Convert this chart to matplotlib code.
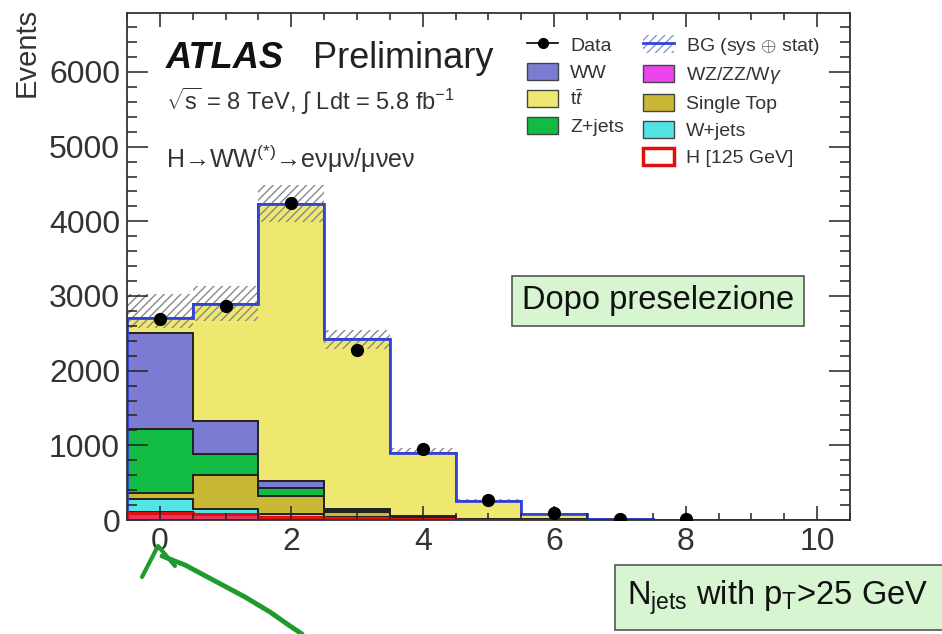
import numpy as np
import matplotlib
matplotlib.use("Agg")
from matplotlib import pyplot as plt
from matplotlib.patches import Patch, Rectangle
from matplotlib.lines import Line2D
from matplotlib.ticker import MultipleLocator

# jet multiplicity bins 0..10
njets = np.arange(0, 11)
edges = np.arange(-0.5, 11.0, 1.0)

# stacked expectations, bottom to top
h125 = [100, 78, 35, 30, 8, 2, 1, 0, 0, 0, 0]
wzzz = [10, 7, 5, 5, 2, 1, 0.5, 0, 0, 0, 0]
wjets = [168, 58, 36, 5, 3, 1, 0.5, 0, 0, 0, 0]
stop = [88, 461, 246, 67, 20, 6, 2, 0, 0, 0, 0]
zjets = [859, 286, 103, 20, 7, 2, 1, 0, 0, 0, 0]
ww = [1285, 430, 98, 25, 15, 5, 6, 1, 0, 0, 0]
ttbar = [200, 1570, 3714, 2273, 840, 238, 74, 14, 5, 1, 0.3]

# BG uncertainty band
band_lo = [2570, 2670, 3990, 2290, 880, 240, 70, 10, 3, 0.5, 0]
band_hi = [3030, 3140, 4480, 2550, 970, 275, 100, 20, 7, 1.5, 0.5]

# observed data
data_x = [0, 1, 2, 3, 4, 5, 6, 7, 8]
data_y = [2690, 2870, 4250, 2278, 949, 272, 100, 20, 8]

plt.rcParams["font.family"] = ["Liberation Sans", "DejaVu Sans"]
plt.rcParams["mathtext.fontset"] = "custom"
plt.rcParams["mathtext.rm"] = "Liberation Sans"
plt.rcParams["mathtext.it"] = "Liberation Sans:italic"
plt.rcParams["mathtext.bf"] = "Liberation Sans:bold"
plt.rcParams["hatch.linewidth"] = 1.0

fig = plt.figure(figsize=(9.42, 6.34), dpi=100)
ax = fig.add_axes([0.1348, 0.1798, 0.7675, 0.7997])

layers = [
    (h125, "#e8345e"),
    (wzzz, "#ee44ee"),
    (wjets, "#55e4e4"),
    (stop, "#c9b836"),
    (zjets, "#12bb44"),
    (ww, "#7b7bd2"),
    (ttbar, "#eee870"),
]

base = np.zeros(len(njets))
for vals, col in layers:
    top = base + np.array(vals, dtype=float)
    ax.stairs(top, edges, baseline=base, fill=True, facecolor=col,
              edgecolor="#222222", linewidth=1.4)
    base = top

# uncertainty hatch
lo = np.array(band_lo, dtype=float)
hi = np.array(band_hi, dtype=float)
ax.bar(njets, hi - lo, width=1.0, bottom=lo, fill=False, hatch="////",
       edgecolor="#888888", linewidth=0)

# total BG outline
ax.stairs(base, edges, color="#3344dd", linewidth=2.0)
# signal line along the bottom
ax.stairs(h125, edges, color="#e01010", linewidth=2.2)

ax.plot(data_x, data_y, "o", color="black", markersize=8.5, zorder=5)

ax.set_xlim(-0.5, 10.5)
ax.set_ylim(0, 6790)
ax.xaxis.set_major_locator(MultipleLocator(2))
ax.xaxis.set_minor_locator(MultipleLocator(0.5))
ax.yaxis.set_major_locator(MultipleLocator(1000))
ax.yaxis.set_minor_locator(MultipleLocator(200))
ax.tick_params(which="both", direction="in", top=True, right=True,
               colors="#222222", labelsize=23, width=1.1)
ax.tick_params(axis="x", which="major", length=10, pad=5)
ax.tick_params(axis="x", which="minor", length=5)
ax.tick_params(axis="y", which="major", length=15, pad=5)
ax.tick_params(axis="y", which="minor", length=7.5)
for tl in ax.get_xticklabels() + ax.get_yticklabels():
    tl.set_color("#333333")
for sp in ax.spines.values():
    sp.set_linewidth(1.3)
    sp.set_color("#333333")

fig.text(27 / 942, 1 - 8 / 634, "Events", rotation=90, ha="center",
         va="top", fontsize=21, color="#333333")

# labels inside the plot
ax.text(0.054, 0.891, "ATLAS", transform=ax.transAxes, fontsize=26,
        fontweight="bold", fontstyle="italic", color="#111111")
ax.text(0.257, 0.891, "Preliminary", transform=ax.transAxes, fontsize=26,
        color="#222222")
ax.text(0.054, 0.809, r"$\sqrt{\rm s}$ = 8 TeV, $\int$ Ldt = 5.8 fb$^{-1}$",
        transform=ax.transAxes, fontsize=17, color="#333333")
ax.text(0.054, 0.694, "H\u2192WW$^{(*)}$\u2192e\u03bd\u03bc\u03bd/\u03bc\u03bde\u03bd",
        transform=ax.transAxes, fontsize=18, color="#333333")

# legend, two columns
blank = Patch(facecolor="none", edgecolor="none")
h_data = Line2D([], [], color="black", marker="o", markersize=7, linewidth=1.2)
h_bg = (Patch(facecolor="white", edgecolor="#8899cc", hatch="////", linewidth=0),
        Line2D([], [], color="#3344dd", linewidth=2))
h_sig = Patch(facecolor="white", edgecolor="#e01010", linewidth=2.5)
handles = [h_data,
           Patch(facecolor="#7b7bd2", edgecolor="#444444"),
           Patch(facecolor="#eee870", edgecolor="#444444"),
           Patch(facecolor="#12bb44", edgecolor="#444444"),
           blank,
           h_bg,
           Patch(facecolor="#ee44ee", edgecolor="#444444"),
           Patch(facecolor="#c9b836", edgecolor="#444444"),
           Patch(facecolor="#55e4e4", edgecolor="#444444"),
           h_sig]
labels = ["Data", "WW", "t$\\bar{t}$", "Z+jets", "",
          "BG (sys $\\oplus$ stat)", "WZ/ZZ/W$\\gamma$", "Single Top",
          "W+jets", "H [125 GeV]"]
leg = ax.legend(handles, labels, ncol=2, loc="upper left",
                bbox_to_anchor=(0.54, 0.975), frameon=False, fontsize=14,
                handlelength=1.6, handleheight=1.0, handletextpad=0.6,
                columnspacing=1.0, labelspacing=0.40, borderpad=0)
for t in leg.get_texts():
    t.set_color("#333333")

# boxes
W, H = 942.0, 634.0
fig.text(658 / W, 1 - 301 / H, "Dopo preselezione", ha="center",
         va="center", fontsize=23.5, color="#111111",
         bbox=dict(boxstyle="square,pad=0.3", facecolor="#d8f5d2",
                   edgecolor="#555555", linewidth=1.2))
fig.add_artist(Rectangle((615 / W, 1 - 630 / H), 335 / W, 65 / H,
                         facecolor="#d8f5d2", edgecolor="#555555",
                         linewidth=1.2, transform=fig.transFigure))
fig.text(627 / W, 1 - 598 / H, r"N$_{\rm jets}$ with p$_{\rm T}$>25 GeV",
         ha="left", va="center", fontsize=23.5, color="#111111")

# hand-drawn green mark under the zero bin
caret_x = [142, 158, 175]
caret_y = [577, 546, 566]
curve_x = [162, 185, 215, 245, 270, 290, 302]
curve_y = [556, 565, 581, 597, 612, 626, 634]
fig.add_artist(Line2D([v / W for v in caret_x], [1 - v / H for v in caret_y],
                      color="#1f9a2c", linewidth=3, solid_capstyle="round"))
fig.add_artist(Line2D([v / W for v in curve_x], [1 - v / H for v in curve_y],
                      color="#1f9a2c", linewidth=3.5, solid_capstyle="round"))

fig.savefig("out.png", dpi=100, facecolor="white")
